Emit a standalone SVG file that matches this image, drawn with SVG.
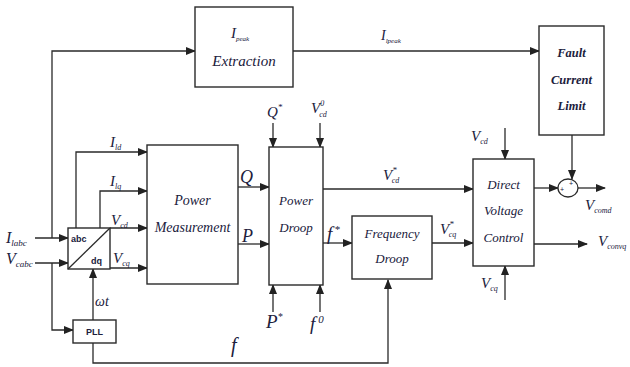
<svg xmlns="http://www.w3.org/2000/svg" width="630" height="367" viewBox="0 0 630 367">
<defs>
<marker id="ah" markerWidth="10" markerHeight="8" refX="9" refY="4" orient="auto" markerUnits="userSpaceOnUse">
<path d="M0,0 L10,4 L0,8 Z" fill="#222"/>
</marker>
<style>
.box{fill:#fff;stroke:#2a2a2a;stroke-width:1.4}
.ln{fill:none;stroke:#2a2a2a;stroke-width:1.3}
.ar{fill:none;stroke:#2a2a2a;stroke-width:1.3;marker-end:url(#ah)}
.t{font-family:"Liberation Serif",serif;font-style:italic;fill:#20203c}
.bt{font-family:"Liberation Serif",serif;font-style:italic;font-weight:bold;fill:#20203c}
.s{font-family:"Liberation Sans",sans-serif;font-weight:bold;fill:#20203c}
</style>
</defs>
<rect width="630" height="367" fill="#fff"/>

<g id="connectors">
<path class="ar" d="M52,238 L52,51 L195,51"/>
<path class="ar" d="M293,51 L539,51"/>
<path class="ar" d="M35,238 L68,238"/>
<path class="ar" d="M35,263 L68,263"/>
<path class="ar" d="M52,263 L52,330 L73,330"/>
<path class="ar" d="M93,320 L93,269"/>
<path class="ar" d="M93,343 L93,363 L388,363 L388,280"/>
<path class="ar" d="M76,228 L76,152 L147,152"/>
<path class="ar" d="M100,228 L100,191 L147,191"/>
<path class="ar" d="M110,228 L147,228"/>
<path class="ar" d="M110,268 L147,268"/>
<path class="ar" d="M238,187 L269,187"/>
<path class="ar" d="M238,244 L269,244"/>
<path class="ar" d="M273,123 L273,147"/>
<path class="ar" d="M320,123 L320,147"/>
<path class="ar" d="M273,312 L273,285"/>
<path class="ar" d="M320,312 L320,285"/>
<path class="ar" d="M323,189 L473,189"/>
<path class="ar" d="M323,243 L352,243"/>
<path class="ar" d="M432,243 L473,243"/>
<path class="ar" d="M505,128 L505,159"/>
<path class="ar" d="M505,300 L505,266"/>
<path class="ar" d="M534,188 L558,188"/>
<path class="ar" d="M572,135 L572,179"/>
<path class="ar" d="M578,188 L605,188"/>
<path class="ar" d="M534,244 L587,244"/>
</g>

<g id="ipeak">
<rect class="box" x="195" y="7" width="98" height="80"/>
<text class="t" x="231" y="38" font-size="15">I<tspan font-size="7" dy="3">peak</tspan></text>
<text class="t" x="244" y="66" font-size="15" text-anchor="middle">Extraction</text>
</g>
<text class="t" x="381" y="40" font-size="14">I<tspan font-size="7" dy="3">lpeak</tspan></text>

<g id="fault">
<rect class="box" x="539" y="26" width="65" height="109"/>
<text class="bt" x="571.5" y="57" font-size="12.5" text-anchor="middle">Fault</text>
<text class="bt" x="571.5" y="84" font-size="12.5" text-anchor="middle">Current</text>
<text class="bt" x="571.5" y="110" font-size="12.5" text-anchor="middle">Limit</text>
</g>

<g id="abcdq">
<rect class="box" x="68" y="228" width="42" height="41" stroke-width="2"/>
<line class="ln" x1="68" y1="269" x2="110" y2="228" stroke-width="2"/>
<text class="s" x="71" y="242" font-size="9">abc</text>
<text class="s" x="91" y="264" font-size="9">dq</text>
</g>

<g id="pll">
<rect class="box" x="73" y="320" width="43" height="23" stroke-width="1.8"/>
<text class="s" x="94.5" y="335" font-size="9" text-anchor="middle">PLL</text>
</g>

<g id="pm">
<rect class="box" x="147" y="145" width="91" height="139"/>
<text class="t" x="192.5" y="205" font-size="14" text-anchor="middle">Power</text>
<text class="t" x="192.5" y="232" font-size="14" text-anchor="middle">Measurement</text>
</g>

<g id="pd">
<rect class="box" x="269" y="147" width="54" height="138"/>
<text class="t" x="296" y="205" font-size="13" text-anchor="middle">Power</text>
<text class="t" x="296" y="232" font-size="13" text-anchor="middle">Droop</text>
</g>

<g id="fd">
<rect class="box" x="352" y="216" width="80" height="63"/>
<text class="t" x="392" y="238" font-size="13" text-anchor="middle">Frequency</text>
<text class="t" x="392" y="263" font-size="13" text-anchor="middle">Droop</text>
</g>

<g id="dvc">
<rect class="box" x="473" y="159" width="61" height="107"/>
<text class="t" x="503.5" y="189" font-size="13" text-anchor="middle">Direct</text>
<text class="t" x="503.5" y="215" font-size="13" text-anchor="middle">Voltage</text>
<text class="t" x="503.5" y="242" font-size="13" text-anchor="middle">Control</text>
</g>

<g id="sum">
<ellipse cx="568" cy="188" rx="10" ry="9" fill="#fff" stroke="#2a2a2a" stroke-width="1.3"/>
<text x="569" y="186" font-size="7" font-family="Liberation Sans,sans-serif" fill="#20203c">+</text>
<text x="560" y="192" font-size="7" font-family="Liberation Sans,sans-serif" fill="#20203c">+</text>
</g>

<g id="labels">
<text class="t" x="6" y="243" font-size="16">I<tspan font-size="9" dy="3">labc</tspan></text>
<text class="t" x="6" y="264" font-size="16">V<tspan font-size="9" dy="3">cabc</tspan></text>
<text class="t" x="110" y="147" font-size="15">I<tspan font-size="8" dy="3">ld</tspan></text>
<text class="t" x="110" y="186" font-size="15">I<tspan font-size="8" dy="3">lq</tspan></text>
<text class="t" x="111" y="225" font-size="15">V<tspan font-size="8" dy="3">cd</tspan></text>
<text class="t" x="113" y="263" font-size="15">V<tspan font-size="8" dy="3">cq</tspan></text>
<text class="t" x="95" y="306" font-size="14">ωt</text>
<text class="t" x="240" y="183" font-size="18">Q</text>
<text class="t" x="242" y="242" font-size="18">P</text>
<text class="t" x="267" y="117" font-size="15">Q<tspan font-size="9" dy="-7">*</tspan></text>
<text class="t" x="311" y="113" font-size="15">V<tspan font-size="8" dy="-7">0</tspan><tspan font-size="8" dx="-5" dy="11">cd</tspan></text>
<text class="t" x="266" y="328" font-size="19">P<tspan font-size="10" dy="-8">*</tspan></text>
<text class="t" x="310" y="330" font-size="19">f<tspan font-size="11" dx="3" dy="-7">0</tspan></text>
<text class="t" x="327" y="240" font-size="19">f<tspan font-size="11" dx="2" dy="-7">*</tspan></text>
<text class="t" x="231" y="352" font-size="20">f</text>
<text class="t" x="383" y="180" font-size="15">V<tspan font-size="9" dy="-7">*</tspan><tspan font-size="8" dx="-5" dy="10">cd</tspan></text>
<text class="t" x="440" y="234" font-size="15">V<tspan font-size="9" dy="-7">*</tspan><tspan font-size="8" dx="-5" dy="10">cq</tspan></text>
<text class="t" x="471" y="141" font-size="15">V<tspan font-size="8" dy="3">cd</tspan></text>
<text class="t" x="481" y="288" font-size="15">V<tspan font-size="8" dy="3">cq</tspan></text>
<text class="t" x="585" y="210" font-size="15">V<tspan font-size="8" dy="3">comd</tspan></text>
<text class="t" x="598" y="246" font-size="15">V<tspan font-size="8" dy="3">convq</tspan></text>
</g>
</svg>
